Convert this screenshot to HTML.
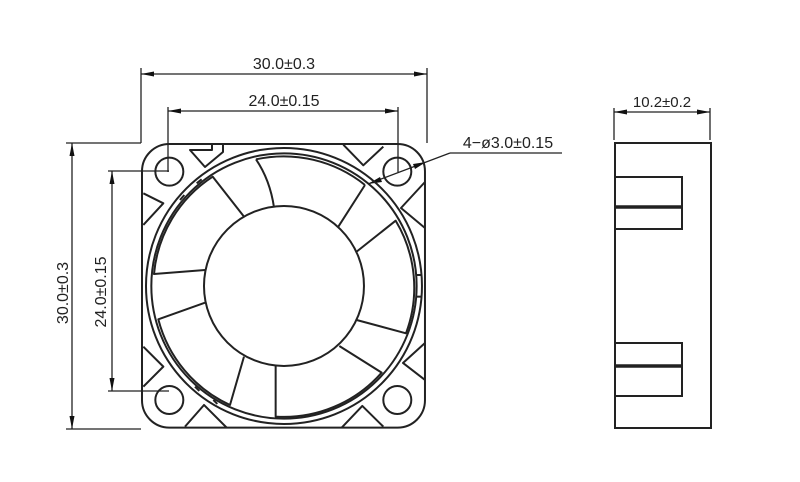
<!DOCTYPE html>
<html><head><meta charset="utf-8"><style>
html,body{margin:0;padding:0;background:#fff}
svg{display:block}
text{font-family:"Liberation Sans",sans-serif;fill:#222}
</style></head><body>
<svg width="800" height="482" viewBox="0 0 800 482" xmlns="http://www.w3.org/2000/svg">
<g stroke="#222" stroke-width="1.3" fill="none">
<line x1="141" y1="68" x2="141" y2="143"/>
<line x1="427" y1="68" x2="427" y2="143"/>
<line x1="141" y1="74" x2="427" y2="74"/>
<line x1="168" y1="107" x2="168" y2="172"/>
<line x1="398" y1="107" x2="398" y2="172"/>
<line x1="168" y1="111" x2="398" y2="111"/>
<line x1="66" y1="143" x2="141" y2="143"/>
<line x1="66" y1="429" x2="141" y2="429"/>
<line x1="72" y1="143" x2="72" y2="429"/>
<line x1="108" y1="171" x2="169" y2="171"/>
<line x1="108" y1="391" x2="169" y2="391"/>
<line x1="112" y1="171" x2="112" y2="391"/>
<line x1="562" y1="153" x2="450" y2="153"/>
<line x1="450" y1="153" x2="368" y2="184"/>
<line x1="614" y1="108" x2="614" y2="140"/>
<line x1="710" y1="108" x2="710" y2="140"/>
<line x1="614" y1="112" x2="710" y2="112"/>
</g>
<g fill="#111">
<polygon points="141,74 154,71.5 154,76.5"/>
<polygon points="427,74 414,71.5 414,76.5"/>
<polygon points="168,111 181,108.5 181,113.5"/>
<polygon points="398,111 385,108.5 385,113.5"/>
<polygon points="72,143 69.5,156 74.5,156"/>
<polygon points="72,429 69.5,416 74.5,416"/>
<polygon points="112,171 109.5,184 114.5,184"/>
<polygon points="112,391 109.5,378 114.5,378"/>
<polygon points="614,112 627,109.5 627,114.5"/>
<polygon points="710,112 697,109.5 697,114.5"/>
<polygon points="368,184 380,177 382,182"/>
<polygon points="426,162 413,164 415,169"/>
</g>
<g stroke="#222" stroke-width="2" fill="none">
<rect x="615" y="143" width="96" height="285"/>
<rect x="615" y="177" width="67" height="52"/>
<rect x="615" y="343" width="67" height="53"/>
<line x1="615" y1="207" x2="682" y2="207" stroke-width="3.5"/>
<line x1="615" y1="366" x2="682" y2="366" stroke-width="3.5"/>
</g>
<g transform="translate(130,130) scale(0.3333)" stroke="#222" stroke-width="6" fill="none" stroke-linejoin="round">
<rect x="36" y="42" width="849" height="851" rx="82"/>
<circle cx="118" cy="125" r="42"/>
<circle cx="802" cy="125" r="42"/>
<circle cx="118" cy="810" r="42"/>
<circle cx="802" cy="810" r="42"/>
<circle cx="462" cy="468" r="414"/>
<circle cx="462" cy="468" r="398"/>
<circle cx="462" cy="468" r="240"/>
<polyline points="246,42 246,60 180,60 225,111 279,66 279,42"/>
<polyline points="640,44 700,106 760,50"/>
<polyline points="40,190 100,220 40,285"/>
<polyline points="885,156 813,234 885,294"/>
<polyline points="40,650 100,710 40,770"/>
<polyline points="885,639 819,699 885,750"/>
<polyline points="165,890 222,825 290,893"/>
<polyline points="635,893 697,828 760,890"/>
<path d="M378,88 Q420,150 432,232 M705,165 L625,290 M378,88 A390,390 0 0 1 705,165"/>
<path d="M680,365 L797,272 A390,390 0 0 1 828,610 L680,570"/>
<path d="M628,648 L755,728 A390,390 0 0 1 437,860 L437,708"/>
<path d="M342,680 L300,825 A390,390 0 0 1 85,568 L225,518"/>
<path d="M225,420 L72,432 A390,390 0 0 1 248,140 L342,260"/>
<line x1="858" y1="435" x2="874" y2="435"/>
<line x1="858" y1="500" x2="874" y2="500"/>
<line x1="150" y1="210" x2="163" y2="195"/>
<line x1="200" y1="160" x2="215" y2="148"/>
<line x1="195" y1="770" x2="208" y2="783"/>
<line x1="250" y1="810" x2="262" y2="822"/>
</g>
<text x="284" y="69" font-size="16" text-anchor="middle">30.0±0.3</text>
<text x="284" y="106" font-size="16" text-anchor="middle">24.0±0.15</text>
<text x="508" y="148" font-size="16" text-anchor="middle">4−ø3.0±0.15</text>
<text x="662" y="107" font-size="15" text-anchor="middle">10.2±0.2</text>
<text transform="translate(68,293) rotate(-90)" font-size="16" text-anchor="middle">30.0±0.3</text>
<text transform="translate(106,292) rotate(-90)" font-size="16" text-anchor="middle">24.0±0.15</text>
</svg>
</body></html>
